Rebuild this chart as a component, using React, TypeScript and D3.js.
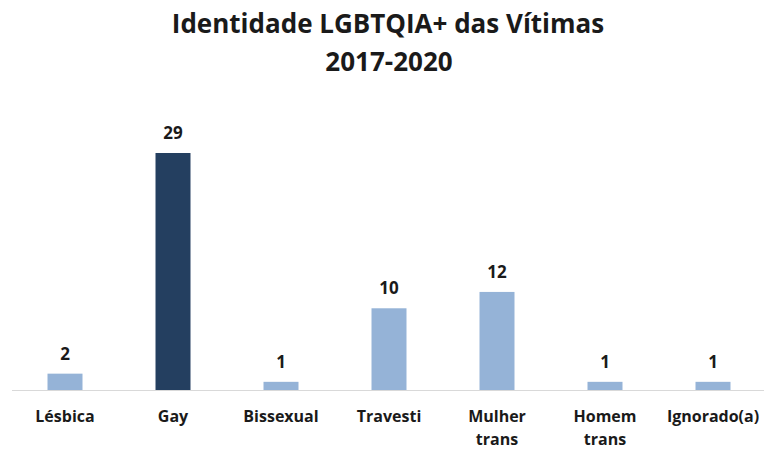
import React from "react";
import * as d3 from "d3";

const categories = ["Lésbica", "Gay", "Bissexual", "Travesti", "Mulher trans", "Homem trans", "Ignorado(a)"];
const labelLines = [["Lésbica"], ["Gay"], ["Bissexual"], ["Travesti"], ["Mulher", "trans"], ["Homem", "trans"], ["Ignorado(a)"]];
const values = [2, 29, 1, 10, 12, 1, 1];
const highlight = ["Gay"];
const titleLines = ["Identidade LGBTQIA+ das Vítimas", "2017-2020"];

const W = 764, H = 450;
const baseY = 390;
const font = "'Open Sans', 'DejaVu Sans', sans-serif";

export default function App() {
  const x = d3.scaleBand<string>().domain(categories).range([11, 767]).paddingInner(0.676).paddingOuter(0.338);
  const y = d3.scaleLinear().domain([0, 29]).range([baseY, 153]);
  return (
    <svg width={W} height={H} style={{ position: "absolute", left: 0, top: 0, background: "#fff" }}>
      <text x={388} y={33} textAnchor="middle" fontFamily={font} fontWeight="bold" fontSize={26} fill="#1a1a1a">{titleLines[0]}</text>
      <text x={389} y={71} textAnchor="middle" fontFamily={font} fontWeight="bold" fontSize={26} fill="#1a1a1a">{titleLines[1]}</text>
      <line x1={12} x2={764} y1={baseY + 0.5} y2={baseY + 0.5} stroke="#d9d9d9" strokeWidth={1} />
      {categories.map((c, i) => {
        const bx = x(c)!;
        const bw = x.bandwidth();
        const cx = bx + bw / 2;
        const v = values[i];
        return (
          <g key={c}>
            <rect x={bx} y={y(v)} width={bw} height={baseY - y(v)} fill={highlight.includes(c) ? "#243f60" : "#95b3d7"} />
            <text x={cx} y={y(v) - 14} textAnchor="middle" fontFamily={font} fontWeight="bold" fontSize={17} fill="#1a1a1a">{v}</text>
            {labelLines[i].map((l, j) => (
              <text key={j} x={cx} y={422 + j * 23} textAnchor="middle" fontFamily={font} fontWeight="bold" fontSize={16} fill="#1a1a1a">{l}</text>
            ))}
          </g>
        );
      })}
    </svg>
  );
}
